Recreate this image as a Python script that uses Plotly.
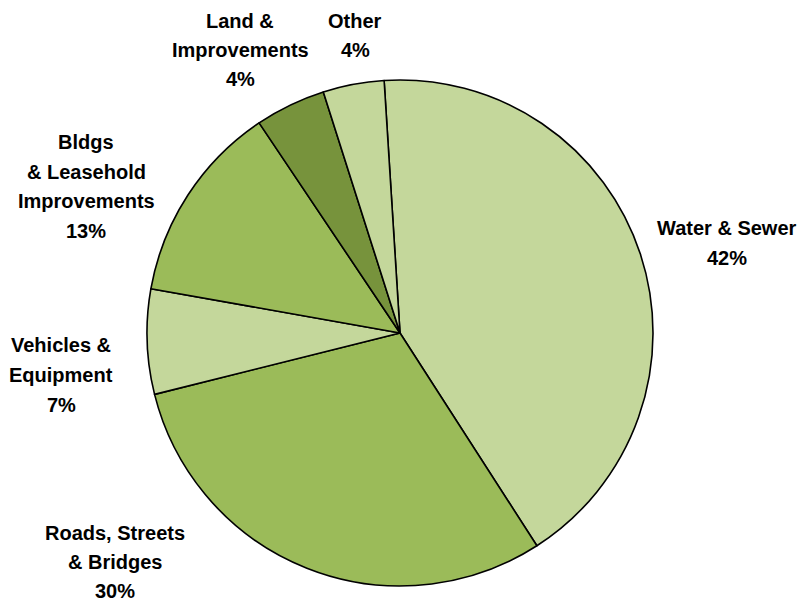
import plotly.graph_objects as go

categories = ["Water & Sewer", "Roads, Streets & Bridges", "Vehicles & Equipment",
              "Bldgs & Leasehold Improvements", "Land & Improvements", "Other"]
values = [41.9, 30.2, 6.7, 12.8, 4.5, 3.9]
pct_labels = ["42%", "30%", "7%", "13%", "4%", "4%"]
label_lines = [["Water & Sewer"], ["Roads, Streets", "& Bridges"], ["Vehicles &", "Equipment"],
               ["Bldgs", "& Leasehold", "Improvements"], ["Land &", "Improvements"], ["Other"]]
colors = ["#c4d79b", "#9bbb59", "#c4d79b", "#9bbb59", "#77933c", "#c4d79b"]

W, H = 805, 602
cx, cy, r = 400, 333, 253

fig = go.Figure(go.Pie(
    labels=categories, values=values, sort=False, direction="clockwise",
    rotation=-3.6, textinfo="none", hoverinfo="label+percent",
    marker=dict(colors=colors, line=dict(color="#000000", width=1.6)),
    domain=dict(x=[(cx - r) / W, (cx + r) / W], y=[1 - (cy + r) / H, 1 - (cy - r) / H]),
    showlegend=False,
))

# label block placement: (center x px, first line y px, line spacing px)
label_pos = [(727, 228, 29.5), (115, 533, 29), (61, 345, 30), (86, 142, 29.5), (240, 21, 29), (355, 21, 29)]

annotations = []
for lines, pct, (lx, ly, sp) in zip(label_lines, pct_labels, label_pos):
    for i, t in enumerate(lines + [pct]):
        annotations.append(dict(
            x=lx / W, y=1 - (ly + i * sp) / H, xref="paper", yref="paper",
            text="<b>%s</b>" % t, showarrow=False, xanchor="center", yanchor="middle",
            font=dict(family="Liberation Sans, Arial, sans-serif", size=20, color="#000000"),
        ))

fig.update_layout(
    width=W, height=H, margin=dict(l=0, r=0, t=0, b=0),
    paper_bgcolor="#ffffff", plot_bgcolor="#ffffff",
    annotations=annotations,
)
fig.write_html("out.html", config={"displayModeBar": False},
               post_script="document.body.style.margin='0';document.body.style.overflow='hidden';")
